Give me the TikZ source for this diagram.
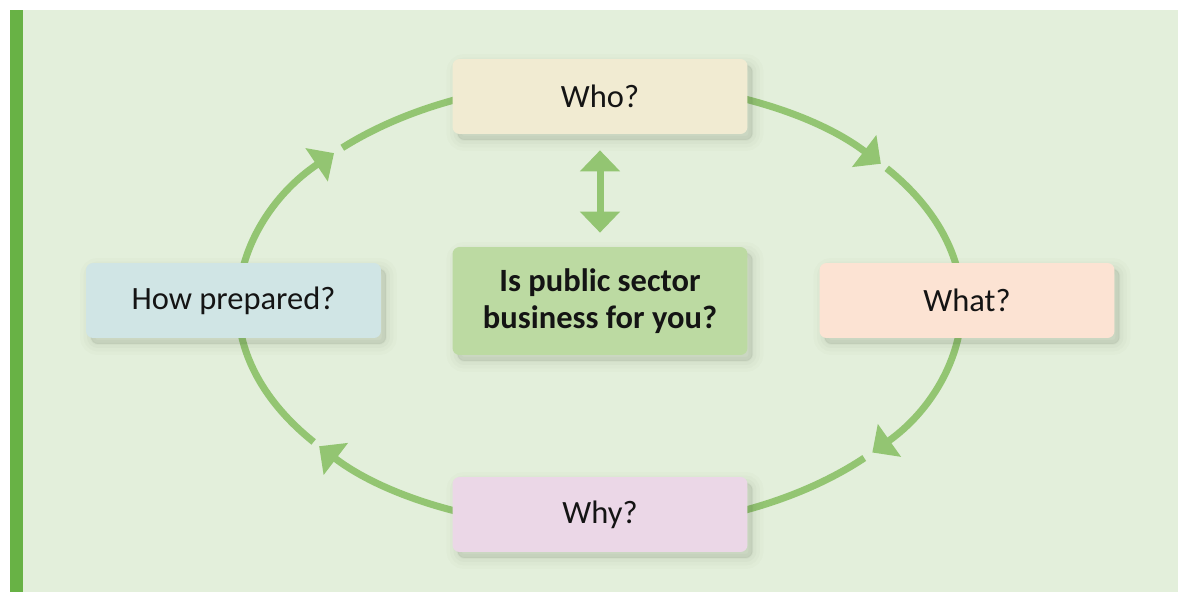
\documentclass[tikz,border=0pt]{standalone}
\usepackage{fontspec}
\setmainfont{Carlito}
\usetikzlibrary{arrows.meta,shadows}

\definecolor{pagegreen}{HTML}{E3EFDB}
\definecolor{bargreen}{HTML}{68B245}
\definecolor{ringgreen}{HTML}{93C572}
\definecolor{whofill}{HTML}{F1EBD2}
\definecolor{hubfill}{HTML}{BCDAA2}
\definecolor{whatfill}{HTML}{FCE3D3}
\definecolor{howfill}{HTML}{D0E5E5}
\definecolor{whyfill}{HTML}{EBD7E7}
\definecolor{shadegrey}{HTML}{4A5A40}

\tikzset{
	softshade/.style={
		general shadow={shadow xshift=0.1cm, shadow yshift=-0.12cm, fill=shadegrey, draw=shadegrey, line width=0.44cm, opacity=0.02},
		general shadow={shadow xshift=0.1cm, shadow yshift=-0.12cm, fill=shadegrey, draw=shadegrey, line width=0.3cm, opacity=0.025},
		general shadow={shadow xshift=0.1cm, shadow yshift=-0.12cm, fill=shadegrey, draw=shadegrey, line width=0.16cm, opacity=0.03},
		general shadow={shadow xshift=0.1cm, shadow yshift=-0.12cm, fill=shadegrey, draw=shadegrey, line width=0.04cm, opacity=0.035}},
	qbox/.style={rectangle, rounded corners=0.14cm, minimum width=5.9cm, minimum height=1.5cm,
		font=\fontsize{18.5}{21}\selectfont, text=black!92, softshade},
	ring/.style={draw=ringgreen, line width=0.14cm},
	ringtip/.style={ring, -{Triangle[length=0.42cm,width=0.78cm]}},
	ellarc/.style={x radius=7.24cm, y radius=4.48cm}
}

\begin{document}
\begin{tikzpicture}[x=0.02cm, y=0.02cm]
\useasboundingbox (0,0) rectangle (1178,592);
\fill[white] (0,0) rectangle (1178,592);
\fill[pagegreen] (23,0) rectangle (1178,582);
\fill[bargreen] (10,0) rectangle (23,582);

\coordinate (ctr) at (600,287);

% the cycle round the boxes
\draw[ringtip] ([shift={(90:7.24cm and 4.48cm)}]ctr) arc[ellarc, start angle=90, end angle=39.1];
\draw[ring] ([shift={(37.6:7.24cm and 4.48cm)}]ctr) arc[ellarc, start angle=37.6, end angle=0];
\draw[ringtip] ([shift={(0:7.24cm and 4.48cm)}]ctr) arc[ellarc, start angle=0, end angle=-41.2];
\draw[ring] ([shift={(-43.1:7.24cm and 4.48cm)}]ctr) arc[ellarc, start angle=-43.1, end angle=-90];
\draw[ringtip] ([shift={(-90:7.24cm and 4.48cm)}]ctr) arc[ellarc, start angle=-90, end angle=-140.9];
\draw[ring] ([shift={(-142.3:7.24cm and 4.48cm)}]ctr) arc[ellarc, start angle=-142.3, end angle=-180];
\draw[ringtip] ([shift={(180:7.24cm and 4.48cm)}]ctr) arc[ellarc, start angle=180, end angle=137.3];
\draw[ring] ([shift={(135.4:7.24cm and 4.48cm)}]ctr) arc[ellarc, start angle=135.4, end angle=90];

\node[qbox, fill=whofill] (who) at (600,495.5) {Who?};
\node[qbox, fill=whatfill] (what) at (967,291.5) {What?};
\node[qbox, fill=whyfill] (why) at (600,77.5) {Why?};
\node[qbox, fill=howfill] (how) at (233.5,291.5) {How prepared?};
\node[qbox, fill=hubfill, minimum height=2.16cm, align=center,
	font=\fontsize{18.5}{21}\selectfont\bfseries] (hub) at (600,291) {Is public sector\\business for you?};

\draw[ring, {Triangle[length=0.42cm,width=0.78cm]}-{Triangle[length=0.42cm,width=0.78cm]},
	shorten <=0.32cm, shorten >=0.28cm] (who.south) -- (hub.north);
\end{tikzpicture}
\end{document}
